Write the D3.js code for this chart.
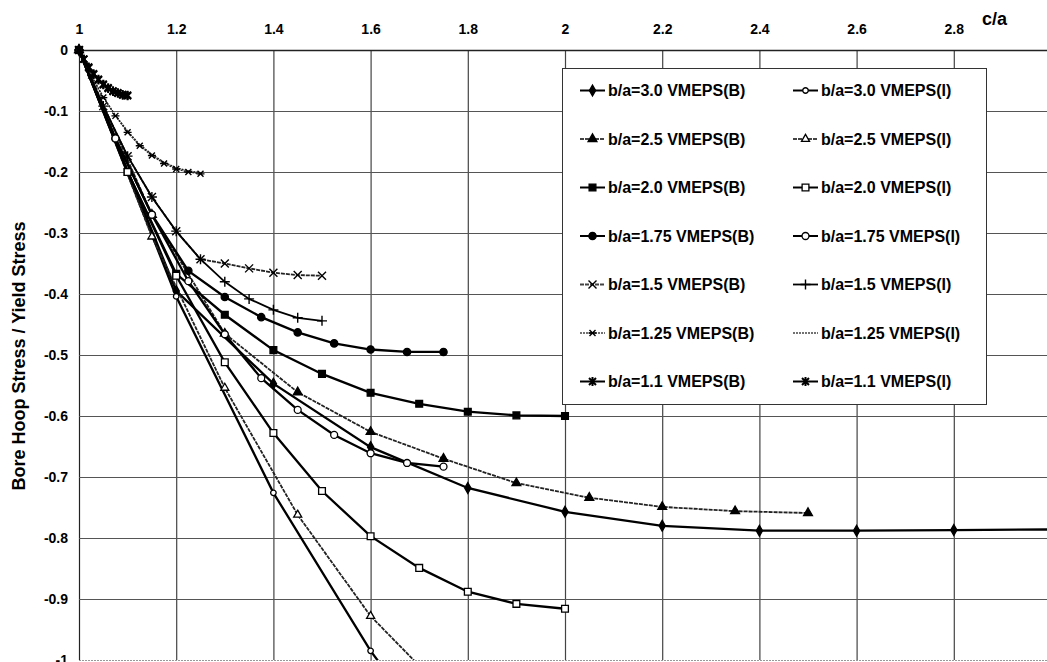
<!DOCTYPE html>
<html>
<head>
<meta charset="utf-8">
<script src="https://cdn.jsdelivr.net/npm/d3@7"></script>
<style>
body{margin:0;background:#fff;}
svg{display:block;font-family:"Liberation Sans",Arial,sans-serif;font-weight:bold;}
</style>
</head>
<body>
<div id="chart"></div>
<script>
(function(){

// c/a stations for each b/a
const ca30 = [1.0,1.2,1.4,1.6,1.8,2.0,2.2,2.4,2.6,2.8,3.0];
const ca25 = [1.0,1.15,1.3,1.45,1.6,1.75,1.9,2.05,2.2,2.35,2.5];
const ca20 = [1.0,1.1,1.2,1.3,1.4,1.5,1.6,1.7,1.8,1.9,2.0];
const ca175 = [1.0,1.075,1.15,1.225,1.3,1.375,1.45,1.525,1.6,1.675,1.75];
const ca15 = [1.0,1.05,1.1,1.15,1.2,1.25,1.3,1.35,1.4,1.45,1.5];
const ca125 = [1.0,1.025,1.05,1.075,1.1,1.125,1.15,1.175,1.2,1.225,1.25];
const ca11 = [1.0,1.01,1.02,1.03,1.04,1.05,1.06,1.07,1.08,1.09,1.1];

// bore hoop stress / yield stress
const s30B = [0,-0.395,-0.547,-0.651,-0.718,-0.757,-0.780,-0.788,-0.788,-0.787,-0.786];
const s30I = [0,-0.404,-0.726,-0.985,-1.2];
const s25B = [0,-0.27,-0.465,-0.561,-0.626,-0.67,-0.71,-0.734,-0.749,-0.756,-0.759];
const s25I = [0,-0.306,-0.554,-0.762,-0.928,-1.05];
const s20B = [0,-0.2,-0.367,-0.434,-0.492,-0.531,-0.562,-0.58,-0.593,-0.599,-0.6];
const s20I = [0,-0.2,-0.37,-0.512,-0.628,-0.723,-0.797,-0.849,-0.888,-0.908,-0.916];
const s175B = [0,-0.145,-0.27,-0.362,-0.405,-0.438,-0.463,-0.481,-0.491,-0.495,-0.495];
const s175I = [0,-0.145,-0.27,-0.379,-0.466,-0.538,-0.59,-0.631,-0.661,-0.677,-0.683];
const s15B = [0,-0.092,-0.174,-0.241,-0.297,-0.343,-0.35,-0.358,-0.365,-0.369,-0.37];
const s15I = [0,-0.092,-0.174,-0.241,-0.297,-0.343,-0.38,-0.408,-0.426,-0.439,-0.444];
const s125B = [0,-0.042,-0.078,-0.108,-0.135,-0.157,-0.173,-0.186,-0.195,-0.2,-0.203];
const s125I = [0,-0.042,-0.077,-0.107,-0.133,-0.155,-0.171,-0.184,-0.193,-0.198,-0.201];
const s11B = [0,-0.015,-0.028,-0.039,-0.048,-0.056,-0.062,-0.067,-0.07,-0.073,-0.074];
const s11I = [0,-0.015,-0.029,-0.04,-0.049,-0.057,-0.063,-0.068,-0.071,-0.074,-0.075];

const xTicks = [1,1.2,1.4,1.6,1.8,2,2.2,2.4,2.6,2.8,3];
const yTicks = [0,-0.1,-0.2,-0.3,-0.4,-0.5,-0.6,-0.7,-0.8,-0.9,-1];

const series = [
 {name:"b/a=3.0 VMEPS(B)", xs:ca30, ys:s30B, mk:"diamond", w:2.3, dash:null},
 {name:"b/a=3.0 VMEPS(I)", xs:ca30, ys:s30I, mk:"circleSmall", w:2.3, dash:null},
 {name:"b/a=2.5 VMEPS(B)", xs:ca25, ys:s25B, mk:"triangle", w:1.8, dash:"4,1"},
 {name:"b/a=2.5 VMEPS(I)", xs:ca25, ys:s25I, mk:"triangleOpen", w:1.8, dash:"4,1"},
 {name:"b/a=2.0 VMEPS(B)", xs:ca20, ys:s20B, mk:"square", w:2.3, dash:null},
 {name:"b/a=2.0 VMEPS(I)", xs:ca20, ys:s20I, mk:"squareOpen", w:2.3, dash:null},
 {name:"b/a=1.75 VMEPS(B)", xs:ca175, ys:s175B, mk:"circle", w:2.3, dash:null},
 {name:"b/a=1.75 VMEPS(I)", xs:ca175, ys:s175I, mk:"circleOpen", w:2.3, dash:null},
 {name:"b/a=1.5 VMEPS(B)", xs:ca15, ys:s15B, mk:"x", w:1.8, dash:"4,1"},
 {name:"b/a=1.5 VMEPS(I)", xs:ca15, ys:s15I, mk:"plus", w:1.8, dash:null},
 {name:"b/a=1.25 VMEPS(B)", xs:ca125, ys:s125B, mk:"xbar", w:1.3, dash:"2,1"},
 {name:"b/a=1.25 VMEPS(I)", xs:ca125, ys:s125I, mk:"none", w:1.3, dash:"2,1"},
 {name:"b/a=1.1 VMEPS(B)", xs:ca11, ys:s11B, mk:"star", w:2.3, dash:null},
 {name:"b/a=1.1 VMEPS(I)", xs:ca11, ys:s11I, mk:"star", w:2.3, dash:null}
];

const width = 1047;
const height = 662;

const svg = d3.select("#chart")
.append("svg")
.attr("width",width)
.attr("height",height);

svg.append("rect").attr("width",width).attr("height",height).attr("fill","#fff");

const x = d3.scaleLinear().domain([1,3]).range([79,1051]);
const y = d3.scaleLinear().domain([0,-1]).range([50,660]);

const fmt = d => String(+d.toFixed(1));

// grid
svg.append("g")
.selectAll("line")
.data(xTicks)
.enter()
.append("line")
.attr("x1",d=>x(d)+0.5).attr("x2",d=>x(d)+0.5)
.attr("y1",y(0)).attr("y2",y(-1))
.attr("stroke",d=>d===1?"#222":"#444")
.attr("stroke-width",1.2);

svg.append("g")
.selectAll("line")
.data(yTicks)
.enter()
.append("line")
.attr("x1",x(1)).attr("x2",width)
.attr("y1",d=>y(d)+0.5).attr("y2",d=>y(d)+0.5)
.attr("stroke",d=>d===0?"#222":(d===-1?"#999":"#555"))
.attr("stroke-width",d=>d===0?1.5:1)
.attr("stroke-dasharray",d=>d===-1?"2,1":null);

// axes
const xAxis = svg.append("g")
.attr("transform",`translate(0,${y(0)})`)
.call(d3.axisTop(x).tickValues(xTicks).tickFormat(fmt).tickSize(0).tickPadding(16));

const yAxis = svg.append("g")
.attr("transform",`translate(${x(1)},0)`)
.call(d3.axisLeft(y).tickValues(yTicks).tickFormat(fmt).tickSize(0).tickPadding(11));

[xAxis,yAxis].forEach(a=>{
a.select(".domain").remove();
a.selectAll("text")
.attr("font-family","'Liberation Sans',Arial,sans-serif")
.attr("font-weight","bold")
.attr("font-size","14px")
.attr("fill","#000");
});

// clip
svg.append("clipPath").attr("id","plotclip")
.append("rect").attr("x",70).attr("y",40).attr("width",width-70).attr("height",y(-1)-40);

const plot = svg.append("g").attr("clip-path","url(#plotclip)");

const line = d3.line().x(d=>x(d[0])).y(d=>y(d[1]));

function marker(g,type,px,py){
const sym = (t,s,fill)=>g.append("path")
.attr("d",d3.symbol().type(t).size(s)())
.attr("transform",`translate(${px},${py})`)
.attr("fill",fill).attr("stroke","#000").attr("stroke-width",1.3);
if(type==="diamond") sym(d3.symbolDiamond,34,"#000");
else if(type==="circleSmall") sym(d3.symbolCircle,24,"#fff");
else if(type==="triangle") sym(d3.symbolTriangle,34,"#000");
else if(type==="triangleOpen") sym(d3.symbolTriangle,28,"#fff");
else if(type==="square") sym(d3.symbolSquare,46,"#000");
else if(type==="squareOpen") sym(d3.symbolSquare,46,"#fff");
else if(type==="circle") sym(d3.symbolCircle,42,"#000");
else if(type==="circleOpen") sym(d3.symbolCircle,38,"#fff");
else if(type!=="none"){
let p = "";
if(type==="x") p = "M-4,-4L4,4M-4,4L4,-4";
if(type==="plus") p = "M-5,0L5,0M0,-5L0,5";
if(type==="xbar") p = "M-3,-3L3,3M-3,3L3,-3M-4,0L4,0";
if(type==="star") p = "M-3.5,-3.5L3.5,3.5M-3.5,3.5L3.5,-3.5M0,-4.5L0,4.5";
g.append("path").attr("d",p)
.attr("transform",`translate(${px},${py})`)
.attr("fill","none").attr("stroke","#000")
.attr("stroke-width",type==="star"?2:1.4);
}
}

// lines then markers
series.forEach(s=>{
const pts = s.ys.map((v,i)=>[s.xs[i],v]);
plot.append("path")
.datum(pts)
.attr("d",line)
.attr("fill","none")
.attr("stroke",s.dash?"#222":"#000")
.attr("stroke-width",s.w)
.attr("stroke-dasharray",s.dash);
});
series.forEach(s=>{
s.ys.forEach((v,i)=>marker(plot,s.mk,x(s.xs[i]),y(v)));
});

// legend
const lg = svg.append("g");
lg.append("rect")
.attr("x",562.5).attr("y",68.5)
.attr("width",424).attr("height",336)
.attr("fill","#fff").attr("stroke","#333").attr("stroke-width",1);

series.forEach((s,i)=>{
const col = i%2, row = Math.floor(i/2);
const lx = col===0?580:793;
const ly = 90.5+row*48.5;
lg.append("line")
.attr("x1",lx).attr("x2",lx+25)
.attr("y1",ly).attr("y2",ly)
.attr("stroke",s.dash?"#444":"#000")
.attr("stroke-width",Math.min(s.w,2))
.attr("stroke-dasharray",s.dash);
marker(lg,s.mk,lx+12.5,ly);
lg.append("text")
.attr("x",lx+28)
.attr("y",ly+5.5)
.attr("font-size","16px")
.attr("font-weight","bold")
.text(s.name);
});

// axis titles
svg.append("text")
.attr("x",982)
.attr("y",25)
.attr("font-size","18px")
.attr("font-weight","bold")
.text("c/a");

svg.append("text")
.attr("transform","rotate(-90)")
.attr("x",-356)
.attr("y",25)
.attr("text-anchor","middle")
.attr("font-size","18px")
.attr("font-weight","bold")
.text("Bore Hoop Stress / Yield Stress");

})();
</script>
</body>
</html>
